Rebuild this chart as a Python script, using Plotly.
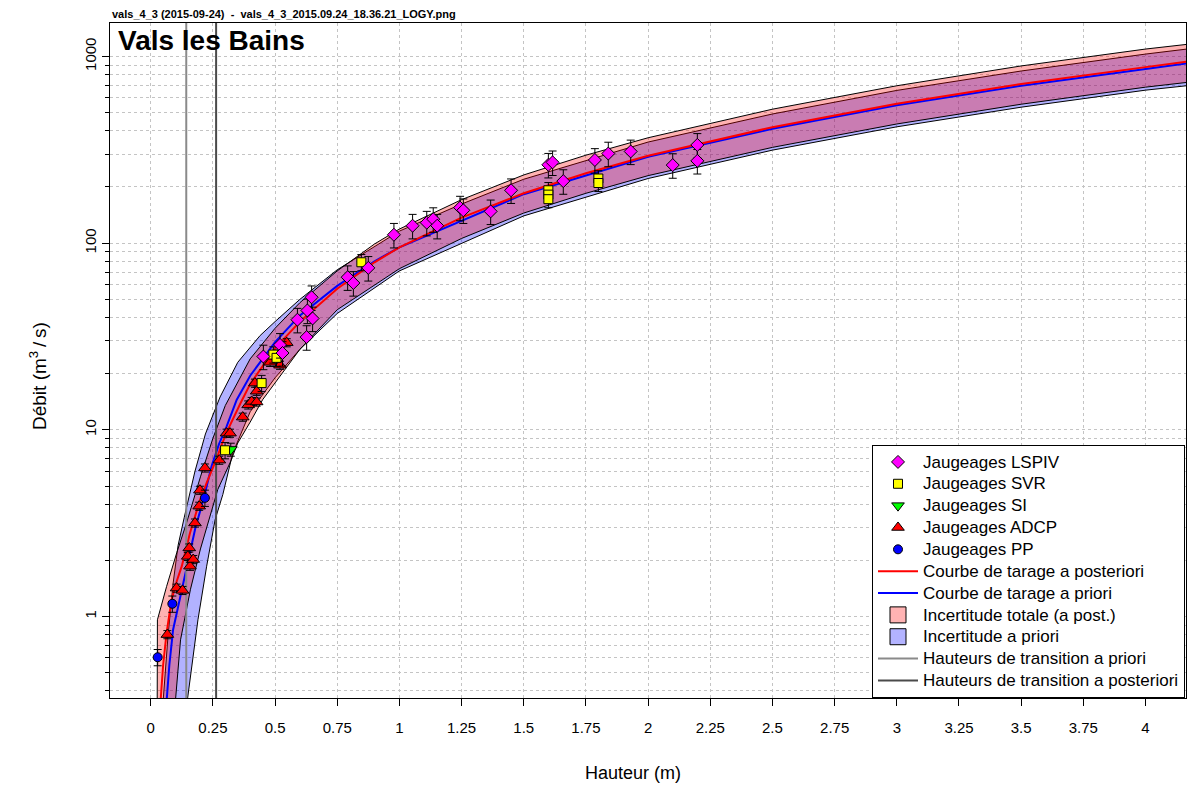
import plotly.graph_objects as go

# ---------------- data ----------------
# Rating curve a posteriori (red)
post_h = [0.036, 0.050, 0.064, 0.084, 0.105, 0.125, 0.158, 0.198, 0.225, 0.255, 0.265, 0.285, 0.31, 0.36, 0.40, 0.50,
          0.60, 0.75, 0.90, 1.00, 1.25, 1.50, 1.75, 2.00, 2.50, 3.00, 3.50, 4.00, 4.20]
post_q = [0.30, 0.55, 0.82, 1.23, 1.55, 1.86, 2.8, 4.2, 5.2, 6.4, 7.0, 8.3, 10.0, 13.8, 17.6, 27.3,
          38, 57, 79, 95, 137, 185, 237, 294, 418, 558, 712, 877, 950]

# Rating curve a priori (blue)
prior_h = [0.060, 0.075, 0.09, 0.12, 0.145, 0.18, 0.212, 0.245, 0.275, 0.305, 0.346, 0.40, 0.50, 0.60, 0.75, 0.90,
           1.00, 1.50, 2.00, 2.50, 3.00, 3.50, 4.00, 4.20]
prior_q = [0.30, 0.55, 0.85, 1.3, 1.86, 3.0, 4.23, 6.4, 8.4, 10.4, 14.5, 19.5, 29.5, 41, 59, 80,
           95, 183, 290, 410, 548, 697, 858, 930]

# Total posterior uncertainty band: upper (left) and lower (right) edges
post_up_h = [0.026, 0.027, 0.064, 0.105, 0.145, 0.171, 0.20, 0.25, 0.30, 0.40, 0.50, 0.60, 0.75, 0.90, 1.00, 1.25,
             1.50, 1.75, 2.00, 2.50, 3.00, 3.50, 4.00, 4.20]
post_up_q = [0.30, 0.96, 1.45, 2.2, 3.2, 4.2, 5.6, 9.0, 13.5, 24, 35, 48, 71, 99, 119, 171,
             232, 296, 367, 522, 697, 890, 1096, 1175]
post_lo_h = [0.095, 0.12, 0.16, 0.20, 0.24, 0.27, 0.32, 0.35, 0.40, 0.45, 0.50, 0.60, 0.75, 1.00, 1.25,
             1.50, 1.75, 2.00, 2.50, 3.00, 3.50, 4.00, 4.20]
post_lo_q = [0.30, 0.75, 1.4, 2.3, 3.5, 4.8, 6.7, 8.5, 11, 14.5, 18, 27, 44, 73, 106,
             145, 185, 230, 326, 435, 555, 685, 735]

# Prior uncertainty band
prior_up_h = [0.046, 0.07, 0.09, 0.11, 0.135, 0.158, 0.178, 0.22, 0.279, 0.35, 0.44, 0.50, 0.60, 0.75, 1.00, 1.25,
              1.50, 2.00, 2.50, 3.00, 3.50, 4.00, 4.20]
prior_up_q = [0.30, 0.8, 1.5, 2.4, 3.4, 4.6, 6.0, 9.5, 15, 23, 32, 38, 50, 72, 116, 162,
              220, 348, 492, 658, 836, 1030, 1110]
prior_lo_h = [0.14, 0.19, 0.225, 0.259, 0.29, 0.33, 0.40, 0.50, 0.60, 0.75, 1.00, 1.50, 2.00, 2.50, 3.00,
              3.50, 4.00, 4.20]
prior_lo_q = [0.30, 0.96, 1.86, 3.3, 4.5, 7.5, 12.5, 19, 27, 42, 71, 140, 222, 315, 420,
              535, 660, 705]

# Transition heights
trans_prior = [0.143]
trans_post = [0.263]

# Gaugings
lspiv_h = [0.453, 0.52, 0.53, 0.59, 0.63, 0.647, 0.651, 0.627, 0.792, 0.815, 0.875, 0.978, 1.053, 1.11, 1.136,
           1.152, 1.244, 1.257, 1.367, 1.449, 1.599, 1.616, 1.659, 1.786, 1.84, 1.93, 2.099, 2.198, 2.198]
lspiv_q = [24.7, 28.5, 25.8, 38.9, 43.6, 51.3, 39.5, 31.4, 65.7, 61.2, 73.7, 110.9, 124, 128.7, 134.5,
           124, 155, 150, 148, 192, 263, 271, 215, 279, 302, 310, 262, 336, 276]
lspiv_err_pct = 15

svr_h = [0.299, 0.446, 0.493, 0.506, 0.847, 1.599, 1.599, 1.599, 1.80, 1.80]
svr_q = [7.77, 17.8, 25.3, 24.3, 79, 192, 182, 172, 222, 210]
svr_err_pct = 10

si_h = [0.322]
si_q = [7.85]
si_err_pct = 8

adcp_h = [0.067, 0.104, 0.128, 0.149, 0.155, 0.158, 0.171, 0.178, 0.195, 0.198, 0.218, 0.276, 0.305, 0.319,
          0.37, 0.392, 0.406, 0.419, 0.426, 0.426, 0.48, 0.52, 0.547]
adcp_q = [0.80, 1.42, 1.38, 2.10, 2.33, 1.86, 2.02, 3.17, 3.9, 4.75, 6.25, 6.88, 9.6, 9.6,
          11.7, 13.6, 14.2, 17.8, 16.1, 14.1, 23.0, 22.2, 29.3]
adcp_err_pct = 5

pp_h = [0.028, 0.087, 0.218]
pp_q = [0.605, 1.17, 4.32]
pp_err_pct = 10

x_ticks = [0, 0.25, 0.5, 0.75, 1, 1.25, 1.5, 1.75, 2, 2.25, 2.5, 2.75, 3, 3.25, 3.5, 3.75, 4]
x_tick_text = ["0", "0.25", "0.5", "0.75", "1", "1.25", "1.5", "1.75", "2", "2.25", "2.5", "2.75",
               "3", "3.25", "3.5", "3.75", "4"]
y_ticks = [1, 10, 100, 1000]
y_tick_text = ["1", "10", "100", "1000"]
y_minor = [0.4, 0.5, 0.6, 0.7, 0.8, 0.9, 2, 3, 4, 5, 6, 7, 8, 9, 20, 30, 40, 50, 60, 70, 80, 90,
           200, 300, 400, 500, 600, 700, 800, 900]

# ---------------- figure ----------------
FONT = "Liberation Sans, Arial, Helvetica, sans-serif"
W, H = 1187, 787
ML, MR, MT, MB = 110, 1, 23, 89
PW, PH = W - ML - MR, H - MT - MB


def px_x(px):
    return (px - ML) / PW


def px_y(py):
    return (H - MB - py) / PH


def lg(name):
    # legend label: larger glyphs on a compact row pitch
    return '<span style="font-size:17px">' + name + '</span>'


fig = go.Figure()

PINK = "rgba(255,0,0,0.30)"
LBLUE = "rgba(0,0,255,0.30)"

# bands
fig.add_trace(go.Scatter(
    x=prior_up_h + prior_lo_h[::-1], y=prior_up_q + prior_lo_q[::-1],
    mode="lines", fill="toself", fillcolor=LBLUE, line=dict(color="black", width=1),
    showlegend=False, hoverinfo="skip"))
fig.add_trace(go.Scatter(
    x=post_up_h + post_lo_h[::-1], y=post_up_q + post_lo_q[::-1],
    mode="lines", fill="toself", fillcolor=PINK, line=dict(color="black", width=1),
    showlegend=False, hoverinfo="skip"))

# curves
fig.add_trace(go.Scatter(x=prior_h, y=prior_q, mode="lines", line=dict(color="#0000ff", width=2),
                         name=lg("Courbe de tarage a priori"), legendrank=7))
fig.add_trace(go.Scatter(x=post_h, y=post_q, mode="lines", line=dict(color="#ff0000", width=2),
                         name=lg("Courbe de tarage a posteriori"), legendrank=6))

# transition heights
fig.add_trace(go.Scatter(x=trans_prior * 2, y=[0.1, 10000], mode="lines",
                         line=dict(color="#8a8a8a", width=2),
                         name=lg("Hauteurs de transition a priori"), legendrank=10))
fig.add_trace(go.Scatter(x=trans_post * 2, y=[0.1, 10000], mode="lines",
                         line=dict(color="#4a4a4a", width=2),
                         name=lg("Hauteurs de transition a posteriori"), legendrank=11))

# legend squares for bands
fig.add_trace(go.Scatter(x=[None], y=[None], mode="markers",
                         marker=dict(symbol="square", size=16, color="#ffb3b3",
                                     line=dict(color="black", width=1)),
                         name=lg("Incertitude totale (a post.)"), legendrank=8))
fig.add_trace(go.Scatter(x=[None], y=[None], mode="markers",
                         marker=dict(symbol="square", size=16, color="#b3b3ff",
                                     line=dict(color="black", width=1)),
                         name=lg("Incertitude a priori"), legendrank=9))


def err(q, pct):
    return [v * pct / 100.0 for v in q]


def gauge(h, q, pct, name, symbol, color, size, rank):
    fig.add_trace(go.Scatter(
        x=h, y=q, mode="markers", name=lg(name), legendrank=rank,
        marker=dict(symbol=symbol, size=size, color=color, line=dict(color="black", width=1)),
        error_y=dict(type="data", array=err(q, pct), arrayminus=err(q, pct),
                     color="black", thickness=1, width=4)))


gauge(adcp_h, adcp_q, adcp_err_pct, "Jaugeages ADCP", "triangle-up", "#ff0000", 11, 4)
gauge(pp_h, pp_q, pp_err_pct, "Jaugeages PP", "circle", "#0000ff", 9, 5)
gauge(si_h, si_q, si_err_pct, "Jaugeages SI", "triangle-down", "#00ff00", 11, 3)
gauge(svr_h, svr_q, svr_err_pct, "Jaugeages SVR", "square", "#ffff00", 9, 2)
gauge(lspiv_h, lspiv_q, lspiv_err_pct, "Jaugeages LSPIV", "diamond", "#ff00ff", 10, 1)

grid = dict(showgrid=True, gridcolor="#c4c4c4", gridwidth=1, griddash="dot")

fig.update_layout(
    width=W, height=H,
    margin=dict(l=ML, r=MR, t=MT, b=MB, pad=0),
    paper_bgcolor="white", plot_bgcolor="white",
    font=dict(family=FONT, color="black", size=14),
    showlegend=True,
    legend=dict(x=px_x(1185), xanchor="right", y=0, yanchor="bottom",
                bgcolor="white", bordercolor="black", borderwidth=1,
                font=dict(family=FONT, size=14.5, color="black"),
                itemwidth=40, traceorder="normal", tracegroupgap=0),
    xaxis=dict(range=[(ML - 150.7) / 248.7, (W - MR - 150.7) / 248.7],
               tickmode="array", tickvals=x_ticks, ticktext=x_tick_text,
               ticks="outside", ticklen=7, tickcolor="black", tickwidth=1,
               showline=True, linecolor="black", linewidth=1, mirror=True,
               zeroline=False, tickfont=dict(size=15, family=FONT),
               ticklabelstandoff=9, **grid),
    yaxis=dict(type="log", range=[-0.4366, 3.1794],
               tickmode="array", tickvals=y_ticks, ticktext=y_tick_text, tickangle=-90,
               ticks="outside", ticklen=7, tickcolor="black", tickwidth=1,
               showline=True, linecolor="black", linewidth=1, mirror=True,
               zeroline=False, tickfont=dict(size=15, family=FONT),
               minor=dict(tickmode="array", tickvals=y_minor, ticks="outside", ticklen=4,
                          tickcolor="black", showgrid=True, gridcolor="#c4c4c4", griddash="dot"),
               **grid),
    annotations=[
        dict(text="<b>vals_4_3\u00a0(2015-09-24)\u00a0\u00a0-\u00a0\u00a0vals_4_3_2015.09.24_18.36.21_LOGY.png</b>",
             xref="paper", yref="paper", x=px_x(110), y=px_y(14), xanchor="left", yanchor="middle",
             showarrow=False, font=dict(size=11, family=FONT)),
        dict(text="<b>Vals les Bains</b>", xref="paper", yref="paper", x=px_x(116), y=px_y(40),
             xanchor="left", yanchor="middle", showarrow=False, font=dict(size=28, family=FONT)),
        dict(text="Hauteur (m)", xref="paper", yref="paper", x=px_x(633), y=px_y(773),
             xanchor="center", yanchor="middle", showarrow=False, font=dict(size=18, family=FONT)),
        dict(text="Débit\u00a0(m<sup>3</sup>\u2009/\u2009s)", xref="paper", yref="paper", x=px_x(38), y=px_y(376),
             xanchor="center", yanchor="middle", textangle=-90, showarrow=False,
             font=dict(size=19, family=FONT)),
    ],
)

fig.write_html("out.html")
